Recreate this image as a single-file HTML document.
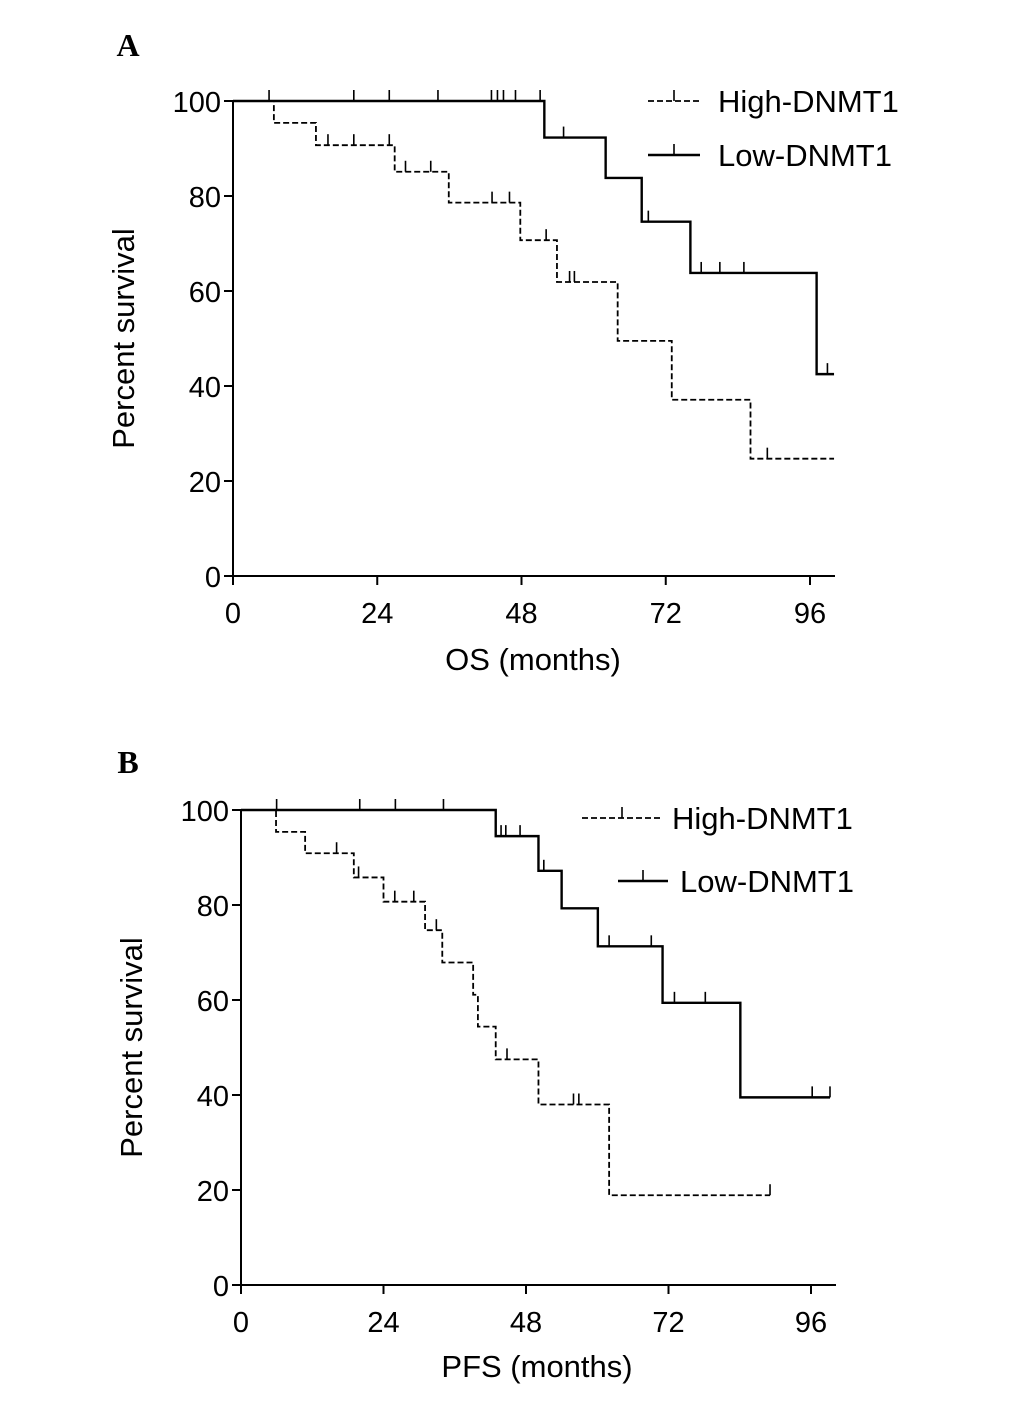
<!DOCTYPE html>
<html><head><meta charset="utf-8"><style>
html,body{margin:0;padding:0;background:#fff;}
svg{display:block;font-family:"Liberation Sans",Arial,sans-serif;}
</style></head><body>
<svg id="chart" width="1033" height="1422" viewBox="0 0 1033 1422" xmlns="http://www.w3.org/2000/svg">
<rect width="1033" height="1422" fill="#fff"/>
<text x="128" y="56" font-family="Liberation Serif,serif" font-weight="bold" font-size="32" text-anchor="middle">A</text>
<text x="128" y="773" font-family="Liberation Serif,serif" font-weight="bold" font-size="32" text-anchor="middle">B</text>
</svg>
<script>
// Panel A (OS) data
const xTicks = [0, 24, 48, 72, 96];
const yTicks = [0, 20, 40, 60, 80, 100];
const osHighTimes = [0, 6.8, 13.8, 26.9, 35.9, 47.8, 53.9, 64.0, 73.0, 86.1];
const osHighSurv = [100, 95.4, 90.7, 85.1, 78.6, 70.7, 61.9, 49.5, 37.1, 24.7];
const osHighCensT = [15.8, 20.1, 26.0, 28.7, 32.9, 43.1, 46.0, 52.1, 56.0, 56.8, 88.9];
const osHighEnd = 100;
const osLowTimes = [0, 51.8, 62.0, 68.0, 76.1, 97.1];
const osLowSurv = [100, 92.3, 83.8, 74.6, 63.8, 42.5];
const osLowCensT = [6.0, 20.1, 26.0, 34.1, 43.0, 44.0, 45.0, 47.0, 51.1, 55.0, 69.1, 77.9, 81.0, 85.0, 98.9];
const osLowEnd = 100;
// Panel B (PFS) data
const pfsHighTimes = [0, 5.9, 10.8, 19.0, 24.0, 31.0, 33.9, 39.1, 39.9, 42.9, 50.1, 62.0];
const pfsHighSurv = [100, 95.4, 90.9, 85.8, 80.7, 74.7, 67.9, 61.1, 54.4, 47.5, 38.0, 18.9];
const pfsHighCensT = [16.1, 19.8, 25.9, 29.1, 32.9, 44.8, 56.0, 56.9, 89.1];
const pfsHighEnd = 89.1;
const pfsLowTimes = [0, 42.9, 50.1, 54.0, 60.1, 71.0, 84.1];
const pfsLowSurv = [100, 94.5, 87.2, 79.3, 71.3, 59.4, 39.5];
const pfsLowCensT = [6.0, 20.0, 26.0, 34.1, 43.8, 44.6, 47.0, 51.0, 62.0, 69.1, 73.0, 78.2, 96.2, 99.2];
const pfsLowEnd = 99.2;

const NS = "http://www.w3.org/2000/svg";
const svg = document.getElementById('chart');
function mk(tag, attrs, parent) {
  const e = document.createElementNS(NS, tag);
  for (const k in attrs) e.setAttribute(k, attrs[k]);
  (parent || svg).appendChild(e);
  return e;
}
function survAt(times, surv, t) {
  let s = surv[0];
  for (let i = 0; i < times.length; i++) if (times[i] <= t) s = surv[i];
  return s;
}
function drawPanel(cfg) {
  const xs = t => cfg.x0 + (t / 96) * (cfg.x96 - cfg.x0);
  const ys = v => cfg.y0 - (v / 100) * (cfg.y0 - cfg.y100);
  const g = mk('g', {});
  
  
  const ya = mk('line', {x1: xs(0), y1: ys(0) + 1, x2: xs(0), y2: ys(100), stroke: '#000', 'stroke-width': 2}, g);
  
  
  const xa = mk('line', {x1: xs(0) - 9, y1: ys(0), x2: cfg.xEnd, y2: ys(0), stroke: '#000', 'stroke-width': 2}, g);
  
  
  yTicks.forEach(v => {
    const tk = mk('line', {x1: xs(0) - 9, y1: ys(v), x2: xs(0), y2: ys(v), stroke: '#000', 'stroke-width': 2}, g);
    
    
    const tl = mk('text', {x: xs(0) - 12, y: ys(v) + 11, 'font-size': 29, 'text-anchor': 'end'}, g);
    tl.textContent = v;
    
    
  });
  xTicks.forEach(t => {
    const tk = mk('line', {x1: xs(t), y1: ys(0), x2: xs(t), y2: ys(0) + 9, stroke: '#000', 'stroke-width': 2}, g);
    
    
    const tl = mk('text', {x: xs(t), y: ys(0) + 47, 'font-size': 29, 'text-anchor': 'middle'}, g);
    tl.textContent = t;
    
    
  });
  const xt = mk('text', {x: cfg.xTitleX, y: cfg.xTitleY, 'font-size': 31, 'text-anchor': 'middle'}, g);
  xt.textContent = cfg.xTitle;
  
  
  const yt = mk('text', {x: 0, y: 0, 'font-size': 31, 'text-anchor': 'middle', transform: `translate(${cfg.yTitleX},${(ys(0) + ys(100)) / 2}) rotate(-90)`}, g);
  yt.textContent = 'Percent survival';
  
  
  cfg.series.forEach(s => {
    let d = `M${xs(s.times[0])},${ys(s.surv[0])}`;
    for (let i = 1; i < s.times.length; i++) {
      d += ` H${xs(s.times[i])} V${ys(s.surv[i])}`;
    }
    d += ` H${xs(s.end)}`;
    const p = mk('path', {d: d, fill: 'none', stroke: '#000', 'stroke-width': s.dash ? 1.8 : 2.4, 'stroke-dasharray': s.dash ? '6,3' : 'none'}, g);
    
    
    s.cens.forEach(t => {
      const v = survAt(s.times, s.surv, t);
      const c = mk('line', {x1: xs(t), y1: ys(v), x2: xs(t), y2: ys(v) - 11, stroke: '#000', 'stroke-width': 1.6}, g);
      
      
    });
  });
  cfg.legend.forEach(L => {
    const ln = mk('line', {x1: L.x1, y1: L.y, x2: L.x2, y2: L.y, stroke: '#000', 'stroke-width': L.dash ? 1.8 : 2.4, 'stroke-dasharray': L.dash ? '6,3' : 'none'}, g);
    
    
    const lm = (L.x1 + L.x2) / 2;
    const mkr = mk('line', {x1: lm, y1: L.y, x2: lm, y2: L.y - 11, stroke: '#000', 'stroke-width': 1.6}, g);
    
    
    const lt = mk('text', {x: L.tx, y: L.y + 11, 'font-size': 31}, g);
    lt.textContent = L.label;
    
    
  });
}
drawPanel({
  name: 'panel-a-os-chart', x0: 233, x96: 810, xEnd: 835, y0: 576, y100: 101,
  xTitle: 'OS (months)', xTitleX: 533, xTitleY: 670, yTitleX: 134,
  series: [
    {name: 'high-dnmt1', times: osHighTimes, surv: osHighSurv, cens: osHighCensT, end: osHighEnd, dash: true},
    {name: 'low-dnmt1', times: osLowTimes, surv: osLowSurv, cens: osLowCensT, end: osLowEnd, dash: false}
  ],
  legend: [
    {x1: 648, x2: 700, y: 101, tx: 718, label: 'High-DNMT1', dash: true},
    {x1: 648, x2: 700, y: 155, tx: 718, label: 'Low-DNMT1', dash: false}
  ]
});
drawPanel({
  name: 'panel-b-pfs-chart', x0: 241, x96: 811, xEnd: 836, y0: 1285, y100: 810,
  xTitle: 'PFS (months)', xTitleX: 537, xTitleY: 1377, yTitleX: 142,
  series: [
    {name: 'high-dnmt1', times: pfsHighTimes, surv: pfsHighSurv, cens: pfsHighCensT, end: pfsHighEnd, dash: true},
    {name: 'low-dnmt1', times: pfsLowTimes, surv: pfsLowSurv, cens: pfsLowCensT, end: pfsLowEnd, dash: false}
  ],
  legend: [
    {x1: 582, x2: 662, y: 818, tx: 672, label: 'High-DNMT1', dash: true},
    {x1: 618, x2: 668, y: 881, tx: 680, label: 'Low-DNMT1', dash: false}
  ]
});
</script>
</body></html>
